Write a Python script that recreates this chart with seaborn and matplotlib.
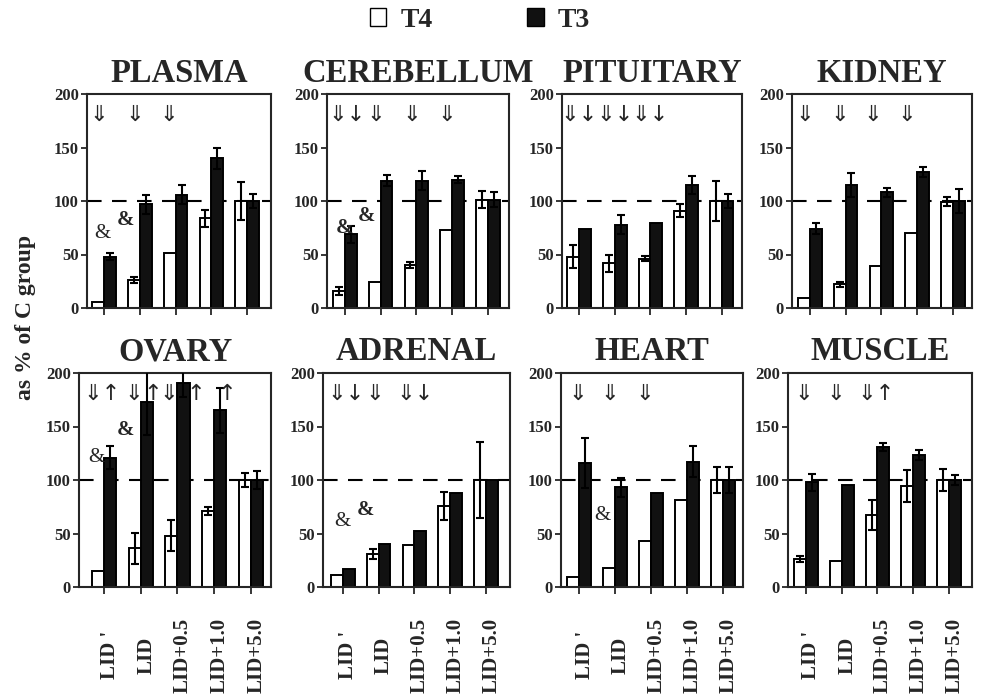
import matplotlib
matplotlib.use("Agg")
import matplotlib.pyplot as plt
import matplotlib.transforms as mtransforms
from matplotlib.patches import Patch
import pandas as pd
import seaborn as sns

# ---------------------------------------------------------
# data (% of C group)
# ---------------------------------------------------------
DOSES = ["LID '", "LID", "LID+0.5", "LID+1.0", "LID+5.0"]
TISSUES = ["PLASMA", "CEREBELLUM", "PITUITARY", "KIDNEY",
           "OVARY", "ADRENAL", "HEART", "MUSCLE"]

T4_MEAN = {
    "PLASMA":     [6, 26, 51, 84, 100],
    "CEREBELLUM": [16, 24, 40, 73, 101],
    "PITUITARY":  [48, 42, 46, 91, 100],
    "KIDNEY":     [9, 22, 39, 70, 99.5],
    "OVARY":      [15, 36, 48, 71, 100],
    "ADRENAL":    [11, 31, 39, 76, 100],
    "HEART":      [9, 18, 43, 81, 100],
    "MUSCLE":     [26, 24, 67, 94, 100],
}
T4_ERR = {
    "PLASMA":     [0, 3, 0, 8, 18],
    "CEREBELLUM": [3.5, 0, 3, 0, 8],
    "PITUITARY":  [11, 8, 2.5, 6, 19],
    "KIDNEY":     [0, 2, 0, 0, 4],
    "OVARY":      [0, 14.5, 14.5, 4, 7],
    "ADRENAL":    [0, 4.5, 0, 13, 35.5],
    "HEART":      [0, 0, 0, 0, 12.5],
    "MUSCLE":     [3, 0, 14, 15, 10],
}
T3_MEAN = {
    "PLASMA":     [48, 97, 106, 140, 100],
    "CEREBELLUM": [69, 119, 119, 120, 101],
    "PITUITARY":  [74, 78, 79, 115, 100],
    "KIDNEY":     [74, 115, 108, 127, 100],
    "OVARY":      [121, 173, 191, 165, 100],
    "ADRENAL":    [17, 40, 52, 88, 100],
    "HEART":      [116, 93, 88, 117, 100],
    "MUSCLE":     [98, 95, 131, 123, 100],
}
T3_ERR = {
    "PLASMA":     [3.5, 9, 9, 10, 7],
    "CEREBELLUM": [8, 5, 9, 3, 7],
    "PITUITARY":  [0, 8.5, 0, 8, 7],
    "KIDNEY":     [5, 11, 4.5, 4.5, 11],
    "OVARY":      [11, 31, 13, 21, 8],
    "ADRENAL":    [0, 0, 0, 0, 0],
    "HEART":      [23.5, 9, 0, 14.5, 12],
    "MUSCLE":     [8, 0, 3.7, 4.7, 5],
}

# significance marks (x in group units, text)
ARROWS = {
    "PLASMA":     [(-0.15, "⇓"), (0.85, "⇓"), (1.8, "⇓")],
    "CEREBELLUM": [(0.05, "⇓↓"), (0.86, "⇓"), (1.86, "⇓"), (2.86, "⇓")],
    "PITUITARY":  [(0.0, "⇓↓"), (1.0, "⇓↓"), (2.0, "⇓↓")],
    "KIDNEY":     [(-0.14, "⇓"), (0.83, "⇓"), (1.75, "⇓"), (2.72, "⇓")],
    "OVARY":      [(-0.06, "⇓↑"), (0.82, "⇓"), (1.33, "↑"), (1.76, "⇓"),
                   (2.5, "↑"), (3.35, "↑")],
    "ADRENAL":    [(0.1, "⇓↓"), (0.9, "⇓"), (2.02, "⇓↓")],
    "HEART":      [(-0.03, "⇓"), (0.86, "⇓"), (1.83, "⇓")],
    "MUSCLE":     [(-0.05, "⇓"), (0.84, "⇓"), (1.96, "⇓↑")],
}
AMPS = {
    "PLASMA":     [(-0.05, 70, "normal"), (0.59, 82, "bold")],
    "CEREBELLUM": [(0.0, 75, "bold"), (0.6, 86, "bold")],
    "OVARY":      [(-0.2, 121, "normal"), (0.59, 147, "bold")],
    "ADRENAL":    [(0.0, 61, "normal"), (0.64, 72, "bold")],
    "HEART":      [(0.64, 67, "normal")],
}

# ---------------------------------------------------------
# layout (pixels of the 981x694 canvas)
# ---------------------------------------------------------
W, H = 981, 694
BOX = {  # left, right, bottom
    "PLASMA": (87, 271, 308), "CEREBELLUM": (327, 509, 308),
    "PITUITARY": (562, 742, 308), "KIDNEY": (792, 972, 308),
    "OVARY": (79, 271, 587), "ADRENAL": (323, 510, 587),
    "HEART": (561, 743, 587), "MUSCLE": (788, 972, 587),
}
XLIM = {
    "PLASMA": (-0.48, 4.67), "CEREBELLUM": (-0.5, 4.59),
    "PITUITARY": (-0.48, 4.57), "KIDNEY": (-0.5, 4.54),
    "OVARY": (-0.68, 4.55), "ADRENAL": (-0.55, 4.67),
    "HEART": (-0.5, 4.55), "MUSCLE": (-0.5, 4.64),
}
PANEL_H = 214

sns.set_style("ticks")
plt.rcParams['font.family'] = ['Liberation Serif', 'DejaVu Sans']
plt.rcParams['font.weight'] = 'bold'
plt.rcParams['axes.linewidth'] = 1.5

fig = plt.figure(figsize=(W / 100, H / 100), dpi=100)

for name in TISSUES:
    l, r, b = BOX[name]
    ax = fig.add_axes([l / W, 1 - b / H, (r - l) / W, PANEL_H / H])

    df = pd.DataFrame({
        "dose": DOSES * 2,
        "hormone": ["T4"] * len(DOSES) + ["T3"] * len(DOSES),
        "value": T4_MEAN[name] + T3_MEAN[name],
    })

    # reference line behind the bars
    ax.axhline(100, color="black", lw=1.5, dashes=(7, 5), zorder=0.5)

    sns.barplot(data=df, x="dose", y="value", hue="hormone",
                hue_order=["T4", "T3"], order=DOSES,
                palette={"T4": "white", "T3": "#111111"},
                edgecolor="black", linewidth=1.4, width=0.66,
                errorbar=None, legend=False, ax=ax, zorder=2)

    # error bars (SEM) from the bar positions seaborn made
    for cont, errs in zip(ax.containers, [T4_ERR[name], T3_ERR[name]]):
        xs, ys, es = [], [], []
        for bar, e in zip(cont, errs):
            if e > 0:
                xs.append(bar.get_x() + bar.get_width() / 2)
                ys.append(bar.get_height())
                es.append(e)
        if xs:
            ax.errorbar(xs, ys, yerr=es, fmt="none", ecolor="black",
                        elinewidth=1.5, capsize=3, capthick=1.5, zorder=3)

    for x, s in ARROWS[name]:
        ax.text(x, 180, s, ha="center", va="center", fontsize=16,
                family="DejaVu Sans", fontweight="normal", zorder=4)
    for x, y, wt in AMPS.get(name, []):
        ax.text(x, y, "&", ha="center", va="center", fontsize=15,
                fontweight=wt, zorder=4)

    ax.set_xlim(*XLIM[name])
    ax.set_ylim(0, 200)
    ax.set_yticks([0, 50, 100, 150, 200])
    ax.set_xlabel("")
    ax.set_ylabel("")
    ax.set_title(name, fontsize=23.5, fontweight="bold", pad=9)

    for sp in ax.spines.values():
        sp.set_visible(True)
        sp.set_linewidth(1.5)
    ax.tick_params(axis="y", direction="out", length=4, width=1.3,
                   labelsize=12, pad=2)
    ax.tick_params(axis="x", direction="out", length=5, width=1.3)

    if b < 400:
        ax.set_xticklabels([])
    else:
        ax.tick_params(axis="x", pad=44)
        ax.set_xticks(range(len(DOSES)))
        ax.set_xticklabels(DOSES, rotation=90, va="center", fontsize=15,
                           fontweight="bold")
        shift = mtransforms.ScaledTranslation(4 / 72, 0, fig.dpi_scale_trans)
        for lbl in ax.get_xticklabels():
            lbl.set_transform(lbl.get_transform() + shift)

fig.text(0.026, 0.542, "as % of C group", rotation=90, ha="center",
         va="center", fontsize=17, fontweight="bold")

handles = [Patch(facecolor="white", edgecolor="black", linewidth=1.0),
           Patch(facecolor="#111111", edgecolor="black", linewidth=1.0)]
fig.legend(handles=handles, labels=["T4", "T3"], loc="center",
           bbox_to_anchor=(0.489, 0.971), ncol=2, frameon=False,
           fontsize=20, handlelength=0.6, handleheight=0.6,
           handletextpad=0.5, columnspacing=3.4)

fig.savefig("out.png", dpi=100)
